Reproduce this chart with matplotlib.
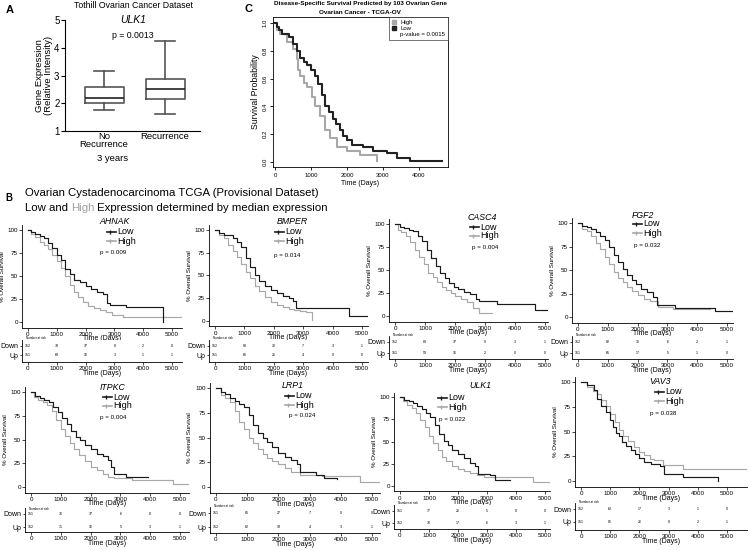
import numpy as np
import matplotlib.pyplot as plt
from matplotlib.lines import Line2D

plt.rcParams['font.family'] = ['Liberation Sans', 'DejaVu Sans']

# ---------------- data ----------------
# panel A: ULK1 box plot (Tothill)
a_groups = ['No\nRecurrence', 'Recurrence']
a_whislo = [1.75, 1.6]
a_q1 = [2.0, 2.15]
a_med = [2.2, 2.5]
a_q3 = [2.58, 2.88]
a_whishi = [3.15, 4.25]

# panel C: TCGA-OV survival
c_low_t = [0, 50, 100, 200, 400, 500, 600, 700, 800, 900, 1000, 1100, 1200, 1300, 1400, 1500,
           1600, 1700, 1800, 1900, 2000, 2130, 2450, 2730, 3100, 3380, 3750, 4630]
c_low_s = [1.0, 0.97, 0.95, 0.92, 0.90, 0.85, 0.80, 0.75, 0.72, 0.70, 0.66, 0.62, 0.56, 0.48, 0.40, 0.36,
           0.31, 0.27, 0.23, 0.19, 0.16, 0.125, 0.11, 0.08, 0.065, 0.03, 0.01, 0.005]
c_high_t = [0, 50, 150, 325, 510, 600, 650, 695, 800, 880, 1020, 1110, 1250, 1390, 1530, 1710, 1990, 2360, 2820]
c_high_s = [1.0, 0.95, 0.92, 0.86, 0.81, 0.74, 0.66, 0.62, 0.57, 0.54, 0.47, 0.40, 0.33, 0.23, 0.17, 0.11, 0.08, 0.05, 0.005]

# panel B: KM curves (time in days, % survival)
genes = ['AHNAK', 'BMPER', 'CASC4', 'FGF2', 'ITPKC', 'LRP1', 'ULK1', 'VAV3']
p_values = ['p = 0.009', 'p = 0.014', 'p = 0.004', 'p = 0.032',
            'p = 0.004', 'p = 0.024', 'p = 0.022', 'p = 0.038']

ahnak_low_t = [0, 100, 250, 400, 550, 700, 850, 1000, 1150, 1300, 1450, 1600, 1800, 2000, 2200, 2400, 2600, 2750, 2850, 3400, 4690]
ahnak_low_s = [100, 98, 96, 94, 91, 86, 80, 73, 67, 58, 52, 46, 43, 39, 36, 33, 30, 21, 19, 16.5, 0]
ahnak_high_t = [0, 100, 250, 400, 550, 700, 850, 1000, 1150, 1300, 1450, 1600, 1750, 1900, 2100, 2300, 2500, 2700, 2900, 3300, 5320]
ahnak_high_s = [100, 96, 92, 87, 84, 79, 73, 66, 59, 50, 40, 33, 27, 22, 17, 15, 13.5, 11, 8, 5, 5]

bmper_low_t = [0, 150, 300, 450, 600, 750, 900, 1050, 1200, 1350, 1500, 1700, 1900, 2100, 2300, 2500, 2650, 2750, 4550, 5170]
bmper_low_s = [100, 97, 95, 94, 91, 87, 81, 69, 59, 51, 44, 39, 34, 31, 28, 25, 22, 14, 6, 6]
bmper_high_t = [0, 150, 300, 450, 600, 750, 900, 1050, 1200, 1350, 1500, 1700, 1900, 2100, 2300, 2500, 2700, 2900, 3100, 3300]
bmper_high_s = [100, 95, 91, 84, 77, 70, 63, 54, 47, 39, 33, 26, 21, 18, 15, 13, 12, 11, 10, 1]

casc4_low_t = [0, 150, 300, 450, 600, 750, 900, 1050, 1200, 1350, 1500, 1650, 1800, 1950, 2100, 2300, 2500, 2700, 2800, 3400, 4670, 5100]
casc4_low_s = [100, 97, 96, 94, 92, 87, 81, 72, 63, 54, 47, 41, 36, 32, 29, 26, 24, 19, 16, 13.5, 6, 6]
casc4_high_t = [0, 100, 200, 350, 500, 650, 800, 950, 1100, 1250, 1400, 1550, 1700, 1850, 2000, 2200, 2400, 2600, 2800, 3220]
casc4_high_s = [100, 94, 91, 87, 80, 72, 64, 56, 47, 42, 37, 32, 28, 25, 22, 18, 15, 9, 3.5, 3.5]

fgf2_low_t = [0, 150, 300, 450, 600, 750, 900, 1050, 1200, 1350, 1500, 1650, 1800, 1950, 2100, 2300, 2500, 2650, 3250, 4600, 5200]
fgf2_low_s = [100, 97, 96, 94, 90, 86, 82, 74, 66, 59, 51, 45, 39, 35, 30, 27, 21, 13, 10, 6, 6]
fgf2_high_t = [0, 150, 300, 450, 600, 750, 900, 1050, 1200, 1350, 1500, 1650, 1800, 2000, 2200, 2400, 2700, 3200, 4440]
fgf2_high_s = [100, 94, 91, 86, 79, 72, 64, 56, 48, 41, 37, 32, 28, 23, 19, 17, 11, 9, 9]

itpkc_low_t = [0, 150, 300, 450, 600, 750, 900, 1050, 1200, 1350, 1500, 1650, 1800, 2000, 2200, 2400, 2600, 2700, 2800, 3200, 3940]
itpkc_low_s = [100, 96, 94, 92, 89, 84, 79, 73, 66, 59, 53, 49, 44, 40, 35, 33, 28, 21, 14, 11, 11]
itpkc_high_t = [0, 100, 250, 400, 550, 700, 850, 1000, 1150, 1300, 1450, 1600, 1800, 2000, 2200, 2400, 2600, 2800, 3400, 4780, 5300]
itpkc_high_s = [100, 95, 92, 90, 86, 80, 71, 61, 54, 46, 40, 34, 27, 21, 18, 14, 11, 9.5, 7, 3, 3]

lrp1_low_t = [0, 150, 300, 450, 600, 750, 900, 1050, 1200, 1350, 1500, 1650, 1800, 2000, 2200, 2400, 2600, 2700, 3200, 3450, 3880]
lrp1_low_s = [100, 96, 94, 90, 87, 84, 81, 73, 63, 55, 50, 45, 40, 34, 30, 27, 23, 15, 12, 9, 8.5]
lrp1_high_t = [0, 150, 300, 450, 600, 750, 900, 1050, 1200, 1350, 1500, 1650, 1800, 2000, 2200, 2400, 2700, 3400, 4600, 5250]
lrp1_high_s = [100, 93, 90, 86, 77, 66, 59, 49, 44, 38, 33, 29, 26, 23, 19, 15, 12, 11, 5, 5]

ulk1_low_t = [0, 150, 300, 450, 600, 750, 900, 1050, 1200, 1350, 1500, 1650, 1800, 2000, 2200, 2400, 2600, 2700, 3100, 3280, 3800]
ulk1_low_s = [100, 97, 95, 93, 90, 87, 82, 77, 68, 58, 51, 46, 41, 36, 31, 26, 22, 14, 12, 6.5, 6.5]
ulk1_high_t = [0, 100, 250, 400, 550, 700, 850, 1000, 1150, 1300, 1450, 1600, 1800, 2000, 2200, 2400, 2650, 2880, 4600, 5170]
ulk1_high_s = [100, 95, 91, 88, 82, 74, 66, 56, 48, 40, 33, 28, 22, 19, 17, 15, 12, 10, 4.5, 4.5]

vav3_low_t = [0, 200, 430, 550, 700, 850, 1000, 1100, 1200, 1300, 1400, 1550, 1700, 1850, 2000, 2150, 2400, 2700, 2830, 3500, 4700]
vav3_low_s = [100, 97, 92, 83, 76, 70, 62, 55, 48, 45, 39, 35, 31, 27, 23, 19, 17, 15, 7.5, 4, 0]
vav3_high_t = [0, 200, 400, 550, 700, 850, 1000, 1150, 1300, 1450, 1600, 1800, 2000, 2150, 2350, 2500, 2800, 3500, 5680]
vav3_high_s = [100, 95, 91, 88, 82, 76, 68, 60, 52, 45, 40, 34, 29, 26, 22, 21, 16, 12.5, 12.5]

# number at risk (0, 1000, ... 5000 days)
risk_times = [0, 1000, 2000, 3000, 4000, 5000]
ahnak_down = [152, 78, 37, 8, 2, 0]; ahnak_up = [151, 68, 16, 3, 1, 1]
bmper_down = [152, 80, 32, 7, 3, 1]; bmper_up = [151, 65, 21, 4, 0, 0]
casc4_down = [152, 88, 37, 9, 3, 1]; casc4_up = [151, 59, 16, 2, 0, 0]
fgf2_down = [152, 82, 35, 6, 2, 1]; fgf2_up = [151, 65, 17, 5, 1, 0]
itpkc_down = [151, 76, 37, 6, 0, 0]; itpkc_up = [152, 71, 16, 5, 3, 1]
lrp1_down = [151, 85, 27, 7, 0, 0]; lrp1_up = [152, 62, 18, 4, 3, 1]
ulk1_down = [151, 77, 26, 5, 0, 0]; ulk1_up = [152, 70, 17, 6, 3, 1]
vav3_down = [152, 62, 17, 3, 1, 0]; vav3_up = [151, 85, 26, 8, 2, 1]

curves = [(ahnak_low_t, ahnak_low_s, ahnak_high_t, ahnak_high_s, ahnak_down, ahnak_up),
          (bmper_low_t, bmper_low_s, bmper_high_t, bmper_high_s, bmper_down, bmper_up),
          (casc4_low_t, casc4_low_s, casc4_high_t, casc4_high_s, casc4_down, casc4_up),
          (fgf2_low_t, fgf2_low_s, fgf2_high_t, fgf2_high_s, fgf2_down, fgf2_up),
          (itpkc_low_t, itpkc_low_s, itpkc_high_t, itpkc_high_s, itpkc_down, itpkc_up),
          (lrp1_low_t, lrp1_low_s, lrp1_high_t, lrp1_high_s, lrp1_down, lrp1_up),
          (ulk1_low_t, ulk1_low_s, ulk1_high_t, ulk1_high_s, ulk1_down, ulk1_up),
          (vav3_low_t, vav3_low_s, vav3_high_t, vav3_high_s, vav3_down, vav3_up)]

# ---------------- layout (pixels) ----------------
# x0, x5000, xmax, y100, y0, down_y, up_y, rbot_y, nar_y, title, legend, pval
layout = [
    (28, 172, 5350, 230, 322, 346, 355, 362, 338, (115, 221), (107, 232), (113, 252)),
    (215, 362, 5200, 230, 321, 346, 355, 362, 338, (292, 221), (275, 232), (287, 256)),
    (395, 545, 5100, 224, 316, 342, 353, 359, 335, (482, 217), (470, 227), (485, 248)),
    (578, 727, 5200, 223, 317, 342, 353, 359, 335, (643, 215), (633, 224), (647, 245)),
    (31, 180, 5300, 392, 487, 514, 527, 532, 509, (113, 387), (103, 397), (113, 418)),
    (216, 372, 5250, 388, 487, 513, 527, 533, 506, (293, 385), (285, 396), (302, 416)),
    (400, 545, 5170, 397, 486, 511, 523, 529, 503, (480, 386), (438, 398), (452, 420)),
    (581, 727, 5680, 382, 481, 509, 522, 530, 502, (660, 381), (655, 392), (663, 413)),
]

LOW = '#1a1a1a'
HIGH = '#a8a8a8'

W, H = 749, 550
fig = plt.figure(figsize=(W / 100, H / 100), dpi=100)


def box(l, t, r, b):
    return fig.add_axes([l / W, 1 - b / H, (r - l) / W, (b - t) / H])


def ftext(x, y, s, **kw):
    return fig.text(x / W, 1 - y / H, s, **kw)


# ---------------- panel A ----------------
ftext(6, 10, 'A', fontsize=8, fontweight='bold', va='center')
ftext(133, 6, 'Tothill Ovarian Cancer Dataset', fontsize=6.3, ha='center', va='center')
ftext(133, 20, 'ULK1', fontsize=7.5, style='italic', ha='center', va='center')
ftext(133, 35, 'p = 0.0013', fontsize=6.3, ha='center', va='center')

axA = box(65, 20, 200, 131)
stats = [dict(whislo=a_whislo[i], q1=a_q1[i], med=a_med[i], q3=a_q3[i], whishi=a_whishi[i], fliers=[])
         for i in range(2)]
edge = dict(color='#555555', linewidth=1.2)
axA.bxp(stats, positions=[1, 2], widths=0.64, showfliers=False,
        boxprops=edge, whiskerprops=edge, capprops=edge,
        medianprops=dict(color='#222222', linewidth=1.2))
axA.set_xlim(0.36, 2.57)
axA.set_ylim(1, 5)
axA.set_yticks([1, 2, 3, 4, 5])
axA.set_xticks([1, 2])
axA.set_xticklabels(a_groups, fontsize=6.8, linespacing=0.85)
axA.tick_params(axis='x', length=0, pad=1)
axA.tick_params(axis='y', labelsize=7, length=3, width=0.8, pad=1)
for sp in ['top', 'right']:
    axA.spines[sp].set_visible(False)
axA.set_ylabel('Gene Expression\n(Relative Intensity)', fontsize=6.8, labelpad=1, linespacing=1.0)
ftext(113, 158, '3 years', fontsize=6.8, ha='center', va='center')

# ---------------- panel C ----------------
ftext(245, 9, 'C', fontsize=8, fontweight='bold', va='center')
ftext(360, 4, 'Disease-Specific Survival Predicted by 103 Ovarian Gene', fontsize=4.6,
      fontweight='bold', ha='center', va='center')
ftext(360, 12, 'Ovarian Cancer - TCGA-OV', fontsize=4.6, fontweight='bold', ha='center', va='center')

axC = box(273, 17, 448, 167)
axC.step(c_high_t, c_high_s, where='post', color=HIGH, lw=1.5)
axC.step(c_low_t, c_low_s, where='post', color='#222222', lw=1.5)
axC.set_xlim(-55, 4805)
axC.set_ylim(-0.036, 1.043)
axC.set_xticks([0, 1000, 2000, 3000, 4000])
axC.set_yticks([0, 0.2, 0.4, 0.6, 0.8, 1.0])
axC.set_yticklabels(['%.1f' % v for v in [0, 0.2, 0.4, 0.6, 0.8, 1.0]], rotation=90, va='center')
axC.tick_params(labelsize=4.3, length=2.5, width=0.6, pad=1.5)
for sp in axC.spines.values():
    sp.set_linewidth(0.6)
axC.set_xlabel('Time (Days)', fontsize=5, labelpad=2)
axC.set_ylabel('Survival Probability', fontsize=6.3, labelpad=2)
handles = [Line2D([], [], marker='s', ls='', color=HIGH, markersize=3),
           Line2D([], [], marker='s', ls='', color='#222222', markersize=3),
           Line2D([], [], ls='', marker='')]
legC = axC.legend(handles, ['High', 'Low', 'p-value = 0.0015'], loc='upper right', fontsize=4.3,
                  frameon=True, fancybox=False, borderaxespad=0, handlelength=0.8,
                  handletextpad=0.6, labelspacing=0.15, borderpad=0.5)
legC.get_frame().set_edgecolor('#333333')
legC.get_frame().set_linewidth(0.6)

# ---------------- panel B header ----------------
ftext(5, 198, 'B', fontsize=7, fontweight='bold', va='center')
ftext(25, 193, 'Ovarian Cystadenocarcinoma TCGA (Provisional Dataset)', fontsize=8.2, va='center')
fig.canvas.draw()
rend = fig.canvas.get_renderer()
xpos = 25
for part, col in [('Low and ', 'black'), ('High', '#a0a0a0'),
                  (' Expression determined by median expression', 'black')]:
    t = ftext(xpos, 208, part, fontsize=8.2, va='center', color=col)
    xpos += t.get_window_extent(rend).width * W / fig.bbox.width

# ---------------- panel B KM plots ----------------
for gi, gene in enumerate(genes):
    lt, ls, ht, hs, down, up = curves[gi]
    x0, x5, xmax, y100, y0, dy, uy, rb, nary, tpos, lpos, ppos = layout[gi]
    ppd = (x5 - x0) / 5000.0
    left = x0 - 200 * ppd
    right = x0 + xmax * ppd
    ppu = (y0 - y100) / 100.0

    ax = box(left, y100 - 5 * ppu, right, y0 + 6 * ppu)
    ax.step(ht, hs, where='post', color=HIGH, lw=0.85)
    ax.step(lt, ls, where='post', color=LOW, lw=0.85)
    ax.set_xlim(-200, xmax)
    ax.set_ylim(-6, 105)
    ax.set_xticks(risk_times)
    ax.set_yticks([0, 25, 50, 75, 100])
    ax.tick_params(labelsize=4.5, length=2, width=0.5, pad=1)
    for sp in ['top', 'right']:
        ax.spines[sp].set_visible(False)
    for sp in ['left', 'bottom']:
        ax.spines[sp].set_linewidth(0.6)
    ax.set_ylabel('% Overall Survival', fontsize=4.5, labelpad=2)
    ax.set_xlabel('Time (Days)', fontsize=5, labelpad=-1)

    # gene, legend, p value
    ftext(tpos[0], tpos[1], gene, fontsize=6.3, style='italic', ha='center', va='center')
    for k, (lab, col) in enumerate([('Low', LOW), ('High', HIGH)]):
        yy = lpos[1] + 9 * k
        fig.add_artist(Line2D([lpos[0] / W, (lpos[0] + 9) / W], [1 - yy / H, 1 - yy / H],
                              color=col, lw=1.2, transform=fig.transFigure))
        fig.add_artist(Line2D([(lpos[0] + 3) / W], [1 - yy / H], marker='|', ms=3.5, mew=1.0,
                              color=col, transform=fig.transFigure))
        ftext(lpos[0] + 10, yy, lab, fontsize=6.5, va='center')
    ftext(ppos[0], ppos[1], p_values[gi], fontsize=4.5, ha='center', va='center')

    # number at risk table
    ftext(x0 - 2, nary, 'Number at risk', fontsize=2.2, va='center')
    rppu = float(uy - dy)
    axr = box(left, dy - 6, right, rb)
    axr.set_xlim(-200, xmax)
    axr.set_ylim(1 - (rb - uy) / rppu, 2 + 6 / rppu)
    for t, n in zip(risk_times, down):
        axr.text(t, 2, str(n), fontsize=2.6, ha='center', va='center')
    for t, n in zip(risk_times, up):
        axr.text(t, 1, str(n), fontsize=2.6, ha='center', va='center')
    axr.set_yticks([2, 1])
    axr.set_yticklabels(['Down', 'Up'])
    axr.set_xticks(risk_times)
    axr.tick_params(axis='y', labelsize=5, length=1.5, width=0.5, pad=1)
    axr.tick_params(axis='x', labelsize=4.5, length=2, width=0.5, pad=1)
    for sp in ['top', 'right']:
        axr.spines[sp].set_visible(False)
    for sp in ['left', 'bottom']:
        axr.spines[sp].set_linewidth(0.6)
    axr.set_xlabel('Time (Days)', fontsize=5, labelpad=-1)

fig.savefig('out.png', dpi=100)
